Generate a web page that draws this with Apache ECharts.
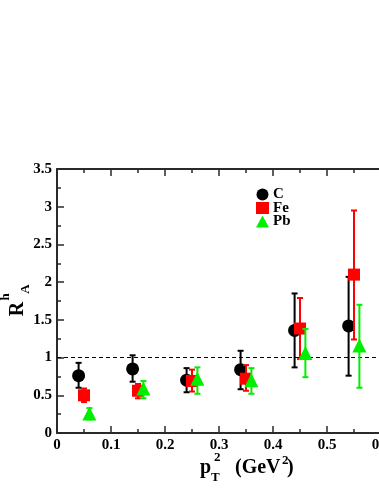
<!DOCTYPE html>
<html>
<head>
<meta charset="utf-8">
<script src="https://cdn.jsdelivr.net/npm/echarts@6/dist/echarts.min.js"></script>
<style>
  html, body { margin: 0; padding: 0; background: #fff; }
  #chart { width: 379px; height: 491px; }
</style>
</head>
<body>
<div id="chart"></div>
<script>
// pT^2 bins, shifted a little per nucleus as in the figure
const xC = [0.04, 0.14, 0.24, 0.34, 0.44, 0.54]
const yC = [0.76, 0.85, 0.70, 0.84, 1.36, 1.42]
const loC = [0.60, 0.68, 0.54, 0.58, 0.87, 0.76]
const hiC = [0.93, 1.03, 0.86, 1.09, 1.85, 2.07]

const xFe = [0.05, 0.15, 0.25, 0.35, 0.45, 0.55]
const yFe = [0.50, 0.56, 0.69, 0.72, 1.385, 2.10]
const loFe = [0.41, 0.46, 0.55, 0.56, 0.98, 1.24]
const hiFe = [0.59, 0.65, 0.84, 0.90, 1.79, 2.95]

const xPb = [0.06, 0.16, 0.26, 0.36, 0.46, 0.56]
const yPb = [0.26, 0.59, 0.72, 0.70, 1.06, 1.16]
const loPb = [0.18, 0.46, 0.52, 0.52, 0.74, 0.60]
const hiPb = [0.33, 0.69, 0.87, 0.86, 1.38, 1.70]

const FONT = '"Liberation Serif", "Times New Roman", serif'
const AXIS_COLOR = '#2a2a2a'

const zip2 = (a, b) => a.map((v, i) => [v, b[i]])
const zip3 = (a, b, c) => a.map((v, i) => [v, b[i], c[i]])

// error bars: vertical line with small caps
const errorBar = (color) => (params, api) => {
  const x = api.value(0)
  const top = api.coord([x, api.value(2)])
  const bot = api.coord([x, api.value(1)])
  const w = 3
  const style = { stroke: color, lineWidth: 2 }
  return {
    type: 'group',
    children: [
      { type: 'line', shape: { x1: top[0], y1: top[1], x2: bot[0], y2: bot[1] }, style },
      { type: 'line', shape: { x1: top[0] - w, y1: top[1], x2: top[0] + w, y2: top[1] }, style },
      { type: 'line', shape: { x1: bot[0] - w, y1: bot[1], x2: bot[0] + w, y2: bot[1] }, style }
    ]
  }
}

const axisCommon = {
  axisLine: { show: true, onZero: false, lineStyle: { color: AXIS_COLOR, width: 2 } },
  axisTick: { show: true, inside: true, length: 7, lineStyle: { color: AXIS_COLOR, width: 1.5 } },
  minorTick: { show: true, splitNumber: 2, length: 4, lineStyle: { color: AXIS_COLOR, width: 1.5 } },
  splitLine: { show: false }
}

const fmt = (v) => (v === 0 ? '0' : String(Math.round(v * 10) / 10))

const chart = echarts.init(document.getElementById('chart'), null, { renderer: 'canvas' })

const option = {
  backgroundColor: '#fff',
  animation: false,
  grid: { left: 57, top: 169, width: 324, height: 264, outerBoundsMode: 'none', containLabel: false },
  legend: {
    data: [
      { name: 'C', icon: 'circle', itemStyle: { color: '#000' } },
      { name: 'Fe', icon: 'rect', itemStyle: { color: '#ff0000' } },
      { name: 'Pb', icon: 'triangle', itemStyle: { color: '#00ee00' } }
    ],
    orient: 'vertical',
    left: 256,
    top: 187,
    itemWidth: 13,
    itemHeight: 12,
    itemGap: -1.5,
    padding: 0,
    textStyle: { fontFamily: FONT, fontWeight: 'bold', fontSize: 15, lineHeight: 12, color: '#000', padding: [0, 0, 0, -1] }
  },
  xAxis: [
    Object.assign({}, axisCommon, {
      type: 'value', min: 0, max: 0.6, interval: 0.1, position: 'bottom',
      axisLabel: {
        show: true, margin: 5, color: '#000', fontFamily: FONT, fontWeight: 'bold', fontSize: 15,
        formatter: fmt, showMaxLabel: true
      }
    }),
    Object.assign({}, axisCommon, {
      type: 'value', min: 0, max: 0.6, interval: 0.1, position: 'top',
      axisLabel: { show: false }
    })
  ],
  yAxis: {
    ...axisCommon,
    type: 'value', min: 0, max: 3.5, interval: 0.5, position: 'left',
    axisLabel: {
      show: true, margin: 5, color: '#000', fontFamily: FONT, fontWeight: 'bold', fontSize: 15,
      formatter: fmt
    }
  },
  series: [
    {
      name: 'errC', type: 'custom', renderItem: errorBar('#000'),
      data: zip3(xC, loC, hiC), z: 2,
      markLine: {
        silent: true, symbol: 'none', label: { show: false },
        lineStyle: { color: '#000', width: 1, type: [4, 3] },
        data: [{ yAxis: 1 }]
      }
    },
    {
      name: 'C', type: 'scatter', symbol: 'circle', symbolSize: 13,
      itemStyle: { color: '#000', opacity: 1 }, data: zip2(xC, yC), z: 3
    },
    { name: 'errFe', type: 'custom', renderItem: errorBar('#ff0000'), data: zip3(xFe, loFe, hiFe), z: 4 },
    {
      name: 'Fe', type: 'scatter', symbol: 'rect', symbolSize: 12,
      itemStyle: { color: '#ff0000', opacity: 1 }, data: zip2(xFe, yFe), z: 5
    },
    { name: 'errPb', type: 'custom', renderItem: errorBar('#00ee00'), data: zip3(xPb, loPb, hiPb), z: 6 },
    {
      name: 'Pb', type: 'scatter', symbol: 'triangle', symbolSize: 14,
      itemStyle: { color: '#00ee00', opacity: 1 }, data: zip2(xPb, yPb), z: 7
    }
  ],
  graphic: [
    // y-axis title R^h_A, rotated
    {
      type: 'group', x: 17.5, y: 309, rotation: Math.PI / 2,
      children: [
        { type: 'text', x: 0, y: 0, style: { text: 'R', font: 'bold 20px ' + FONT, fill: '#000', align: 'center', verticalAlign: 'middle' } },
        { type: 'text', x: 12, y: -12, style: { text: 'h', font: 'bold 13px ' + FONT, fill: '#000', align: 'center', verticalAlign: 'middle' } },
        { type: 'text', x: 20, y: 8, style: { text: 'A', font: 'bold 13px ' + FONT, fill: '#000', align: 'center', verticalAlign: 'middle' } }
      ]
    },
    // x-axis title pT^2 (GeV^2)
    { type: 'text', x: 200, y: 468, style: { text: 'p', font: 'bold 20px ' + FONT, fill: '#000', align: 'left', verticalAlign: 'middle' } },
    { type: 'text', x: 211, y: 478, style: { text: 'T', font: 'bold 13px ' + FONT, fill: '#000', align: 'left', verticalAlign: 'middle' } },
    { type: 'text', x: 214, y: 458, style: { text: '2', font: 'bold 13px ' + FONT, fill: '#000', align: 'left', verticalAlign: 'middle' } },
    { type: 'text', x: 235, y: 468, style: { text: '(GeV', font: 'bold 20px ' + FONT, fill: '#000', align: 'left', verticalAlign: 'middle' } },
    { type: 'text', x: 282, y: 461, style: { text: '2', font: 'bold 13px ' + FONT, fill: '#000', align: 'left', verticalAlign: 'middle' } },
    { type: 'text', x: 287, y: 468, style: { text: ')', font: 'bold 20px ' + FONT, fill: '#000', align: 'left', verticalAlign: 'middle' } }
  ]
}

chart.setOption(option)
</script>
</body>
</html>
